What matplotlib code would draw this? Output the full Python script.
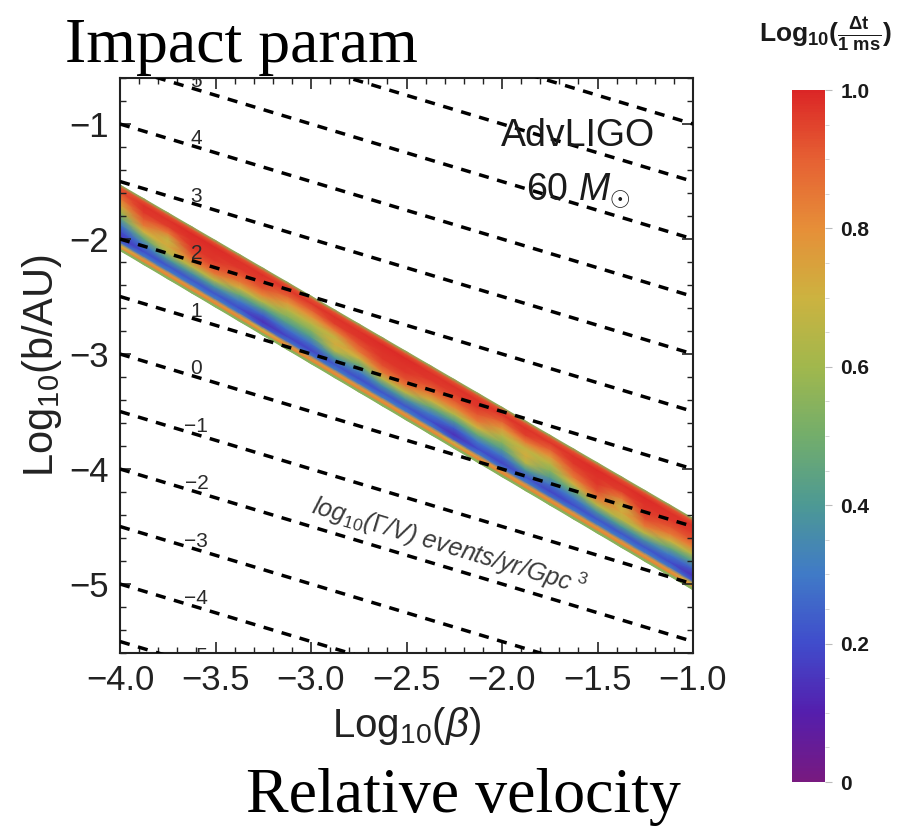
import numpy as np
import matplotlib
matplotlib.use("Agg")
import matplotlib.pyplot as plt
from matplotlib.colors import LinearSegmentedColormap
from matplotlib.ticker import MultipleLocator

plt.rcParams['font.family'] = ['Liberation Sans', 'DejaVu Sans']
plt.rcParams['mathtext.fontset'] = 'custom'
plt.rcParams['mathtext.rm'] = 'Liberation Sans'
plt.rcParams['mathtext.it'] = 'Liberation Sans:italic'
plt.rcParams['mathtext.bf'] = 'Liberation Sans:bold'

# ---- data ----
# contours of constant event rate log10(Gamma/V): log b = slope*log beta + offset + step*level
rate_levels = list(range(-5, 9))
labeled_levels = [-5, -4, -3, -2, -1, 0, 1, 2, 3, 4, 5]
rate_slope = -0.5
rate_offset = -5.0
rate_step = 0.5
label_x = -3.60

# edges of the detectable band (log beta, log b)
band_x = [-4.0, -1.0]
band_upper = [-1.53, -4.43]
band_lower = [-2.10, -5.05]

# log10(dt / 1 ms) sampled along the band (one list per log beta) and
# across it from the lower edge (first value) to the upper edge (last value)
band_cols = [-4.0, -3.875, -3.75, -3.625, -3.5, -3.375, -3.25, -3.125, -3.0,
             -2.875, -2.75, -2.625, -2.5, -2.375, -2.25, -2.125, -2.0,
             -1.875, -1.75, -1.625, -1.5, -1.375, -1.25, -1.125, -1.0]
band_rows = [0.0, 0.025, 0.05, 0.085, 0.13, 0.2, 0.3, 0.4, 0.5, 0.6, 0.7, 0.8, 0.9, 0.965, 1.0]
dt_columns = [
    [0.55, 0.55, 0.80, 0.70, 0.25, 0.15, 0.20, 0.30, 0.46, 0.60, 0.74, 0.85, 0.93, 0.92, 0.55],
    [0.55, 0.55, 0.82, 0.78, 0.30, 0.20, 0.30, 0.48, 0.70, 0.85, 0.92, 0.97, 0.98, 0.92, 0.55],
    [0.55, 0.55, 0.82, 0.78, 0.30, 0.22, 0.40, 0.65, 0.72, 0.68, 0.84, 0.96, 0.98, 0.92, 0.55],
    [0.55, 0.55, 0.82, 0.78, 0.30, 0.22, 0.38, 0.65, 0.85, 0.93, 0.97, 0.98, 0.99, 0.92, 0.55],
    [0.55, 0.55, 0.82, 0.78, 0.30, 0.22, 0.38, 0.65, 0.85, 0.93, 0.97, 0.98, 0.99, 0.92, 0.55],
    [0.55, 0.55, 0.82, 0.78, 0.30, 0.20, 0.30, 0.48, 0.70, 0.85, 0.92, 0.97, 0.98, 0.92, 0.55],
    [0.55, 0.55, 0.80, 0.70, 0.22, 0.14, 0.24, 0.42, 0.64, 0.82, 0.92, 0.96, 0.98, 0.92, 0.55],
    [0.55, 0.55, 0.82, 0.78, 0.28, 0.18, 0.28, 0.42, 0.55, 0.66, 0.78, 0.90, 0.97, 0.92, 0.55],
    [0.55, 0.55, 0.82, 0.78, 0.28, 0.18, 0.28, 0.42, 0.55, 0.66, 0.78, 0.90, 0.97, 0.92, 0.55],
    [0.55, 0.55, 0.82, 0.78, 0.30, 0.22, 0.40, 0.65, 0.72, 0.68, 0.84, 0.96, 0.98, 0.92, 0.55],
    [0.55, 0.55, 0.82, 0.78, 0.30, 0.20, 0.30, 0.48, 0.70, 0.85, 0.92, 0.97, 0.98, 0.92, 0.55],
    [0.55, 0.55, 0.82, 0.78, 0.30, 0.22, 0.38, 0.65, 0.85, 0.93, 0.97, 0.98, 0.99, 0.92, 0.55],
    [0.55, 0.55, 0.82, 0.78, 0.30, 0.22, 0.38, 0.65, 0.85, 0.93, 0.97, 0.98, 0.99, 0.92, 0.55],
    [0.55, 0.55, 0.82, 0.78, 0.30, 0.20, 0.30, 0.48, 0.70, 0.85, 0.92, 0.97, 0.98, 0.92, 0.55],
    [0.55, 0.55, 0.80, 0.70, 0.22, 0.14, 0.24, 0.42, 0.64, 0.82, 0.92, 0.96, 0.98, 0.92, 0.55],
    [0.55, 0.55, 0.82, 0.78, 0.30, 0.20, 0.30, 0.48, 0.70, 0.85, 0.92, 0.97, 0.98, 0.92, 0.55],
    [0.55, 0.55, 0.82, 0.78, 0.28, 0.18, 0.28, 0.42, 0.55, 0.66, 0.78, 0.90, 0.97, 0.92, 0.55],
    [0.55, 0.55, 0.82, 0.78, 0.30, 0.22, 0.40, 0.65, 0.72, 0.68, 0.84, 0.96, 0.98, 0.92, 0.55],
    [0.55, 0.55, 0.82, 0.78, 0.28, 0.18, 0.28, 0.42, 0.55, 0.66, 0.78, 0.90, 0.97, 0.92, 0.55],
    [0.55, 0.55, 0.82, 0.78, 0.30, 0.20, 0.30, 0.48, 0.70, 0.85, 0.92, 0.97, 0.98, 0.92, 0.55],
    [0.55, 0.55, 0.82, 0.78, 0.30, 0.22, 0.38, 0.65, 0.85, 0.93, 0.97, 0.98, 0.99, 0.92, 0.55],
    [0.55, 0.55, 0.82, 0.78, 0.30, 0.22, 0.40, 0.65, 0.72, 0.68, 0.84, 0.96, 0.98, 0.92, 0.55],
    [0.55, 0.55, 0.82, 0.78, 0.30, 0.22, 0.38, 0.65, 0.85, 0.93, 0.97, 0.98, 0.99, 0.92, 0.55],
    [0.55, 0.55, 0.82, 0.78, 0.30, 0.20, 0.30, 0.48, 0.70, 0.85, 0.92, 0.97, 0.98, 0.92, 0.55],
    [0.55, 0.55, 0.80, 0.70, 0.22, 0.14, 0.24, 0.42, 0.64, 0.82, 0.92, 0.96, 0.98, 0.92, 0.55],
]

x_ticks = [-4.0, -3.5, -3.0, -2.5, -2.0, -1.5, -1.0]
y_ticks = [-5, -4, -3, -2, -1]
cbar_ticks = [0, 0.2, 0.4, 0.6, 0.8, 1.0]
cbar_ticklabels = ['0', '0.2', '0.4', '0.6', '0.8', '1.0']

rainbow = LinearSegmentedColormap.from_list("rainbow_dt", [
    (0.00, (0.47, 0.10, 0.50)),
    (0.10, (0.33, 0.12, 0.68)),
    (0.20, (0.25, 0.30, 0.80)),
    (0.30, (0.25, 0.48, 0.78)),
    (0.40, (0.30, 0.60, 0.58)),
    (0.50, (0.45, 0.68, 0.42)),
    (0.60, (0.63, 0.72, 0.30)),
    (0.70, (0.80, 0.70, 0.25)),
    (0.80, (0.90, 0.56, 0.22)),
    (0.90, (0.90, 0.38, 0.20)),
    (1.00, (0.86, 0.15, 0.15)),
])

# ---- figure ----
fig = plt.figure(figsize=(9.08, 8.32), dpi=100)
ax = fig.add_axes([120 / 908, 1 - 653 / 832, 573 / 908, 575 / 832])
ax.set_xlim(-4.0, -1.0)
ax.set_ylim(-5.6, -0.6)

# band of time delays, drawn on a grid sheared along the band
cols = np.array(band_cols)
rows = np.array(band_rows)
up = np.interp(cols, band_x, band_upper)
lo = np.interp(cols, band_x, band_lower)
X = np.tile(cols, (len(rows), 1))
Y = lo[None, :] + rows[:, None] * (up - lo)[None, :]
C = np.array(dt_columns).T
ax.pcolormesh(X, Y, C, cmap=rainbow, vmin=0, vmax=1, shading='gouraud', zorder=1)

# rate contours
xl = np.array([-4.0, -1.0])
for n in rate_levels:
    yl = rate_slope * xl + rate_offset + rate_step * n
    ax.plot(xl, yl, color='black', lw=2.5, linestyle=(0, (2.9, 2.5)), zorder=3)
for n in labeled_levels:
    yv = rate_slope * label_x + rate_offset + rate_step * n
    lab = str(n).replace('-', '\u2212')
    ax.text(label_x, yv + 0.07, lab, fontsize=15, color='#2a2a2a',
            ha='center', va='center', zorder=4, clip_on=True)

# angle of the contours on screen
fig.canvas.draw()
p0 = ax.transData.transform((-4.0, rate_slope * -4.0))
p1 = ax.transData.transform((-1.0, rate_slope * -1.0))
ang = np.degrees(np.arctan2(p1[1] - p0[1], p1[0] - p0[0]))

ax.text(-2.28, -4.67, r'log$_{10}$($\Gamma$/V) events/yr/Gpc$^{\ 3}$',
        fontsize=18, style='italic', color='#3a3a3a', rotation=ang,
        rotation_mode='anchor', ha='center', va='center', zorder=4)

ax.text(-1.60, -1.10, 'AdvLIGO', fontsize=27, color='#1a1a1a', ha='center', va='center', zorder=4)
ax.text(-1.60, -1.58, r'60 $M_{\odot}$', fontsize=27, color='#1a1a1a', ha='center', va='center', zorder=4)

ax.set_xticks(x_ticks)
ax.set_xticklabels([f'{v:.1f}'.replace('-', '\u2212') for v in x_ticks])
ax.set_yticks(y_ticks)
ax.set_yticklabels([str(v).replace('-', '\u2212') for v in y_ticks])
ax.xaxis.set_minor_locator(MultipleLocator(0.1))
ax.yaxis.set_minor_locator(MultipleLocator(0.2))
ax.tick_params(which='both', direction='in', top=True, right=True, colors='#222222')
ax.tick_params(which='major', length=8, width=1.2, labelsize=25, pad=8)
ax.tick_params(which='minor', length=4, width=1.0)
for s in ax.spines.values():
    s.set_linewidth(1.5)
    s.set_color('#222222')

ax.set_xlabel(r'Log$_{10}$($\beta$)', fontsize=29, color='#222222', labelpad=6)
ax.set_ylabel(r'Log$_{10}$(b/AU)', fontsize=30, color='#222222', labelpad=4)

# colour bar
cax = fig.add_axes([792 / 908, 1 - 782 / 832, 33 / 908, 692 / 832])
sm = plt.cm.ScalarMappable(cmap=rainbow, norm=plt.Normalize(0, 1))
cb = fig.colorbar(sm, cax=cax)
cb.outline.set_visible(False)
cb.set_ticks(cbar_ticks)
cb.set_ticklabels(cbar_ticklabels)
cax.yaxis.set_minor_locator(MultipleLocator(0.05))
cax.tick_params(which='major', length=5, width=0.8, color='#bbbbbb', labelsize=15, pad=6)
cax.tick_params(which='minor', length=3, width=0.6, color='#cccccc')
for t in cax.get_yticklabels():
    t.set_fontweight('bold')
    t.set_color('#1a1a1a')

fig.text(826 / 908, 1 - 35 / 832,
         r'Log$_{\mathbf{10}}$($\frac{\mathbf{\Delta t}}{\mathbf{1\ ms}}$)',
         fontsize=19, fontweight='bold', ha='center', va='center', color='#1a1a1a')

# annotations
serif = ['Liberation Serif', 'DejaVu Serif']
fig.text(65 / 908, 1 - 62 / 832, 'Impact param', family=serif, fontsize=46,
         ha='left', va='baseline', color='black')
fig.text(463 / 908, 1 - 812 / 832, 'Relative velocity', family=serif, fontsize=46,
         ha='center', va='baseline', color='black')

fig.savefig('out.png', dpi=100)
